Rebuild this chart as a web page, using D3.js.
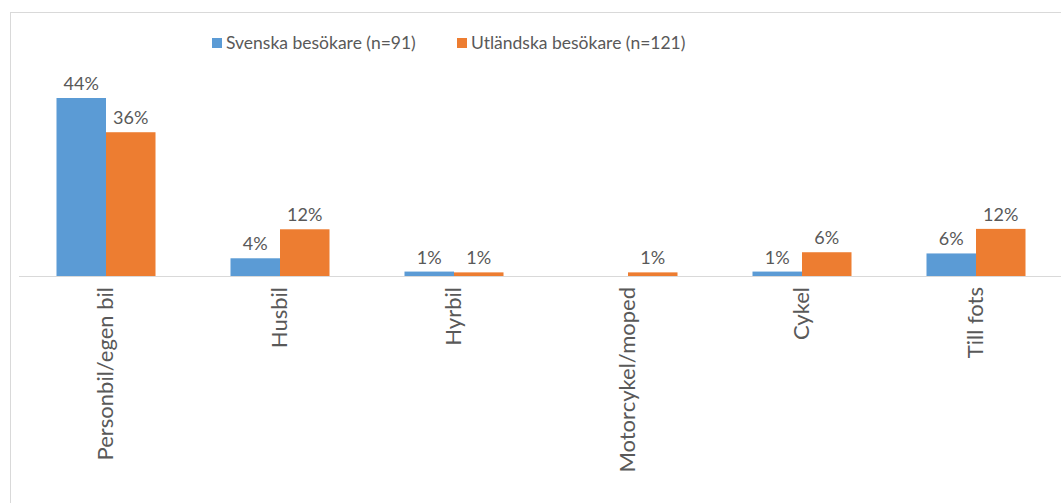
<!DOCTYPE html>
<html>
<head>
<meta charset="utf-8">
<script src="https://cdn.jsdelivr.net/npm/d3@7"></script>
<style>
    body { margin: 0; background: #fff; }
    text { font-family: Lato, "Open Sans", sans-serif; fill: #595959; }
</style>
</head>
<body>
<svg id="chart" width="1061" height="503"></svg>
<script>
// categories and series (percent)
const categories = ["Personbil/egen bil", "Husbil", "Hyrbil", "Motorcykel/moped", "Cykel", "Till fots"];
const seriesNames = ["Svenska besökare (n=91)", "Utländska besökare (n=121)"];
const svenska = [44.2, 4.4, 1.1, 0, 1.1, 5.6];
const utlandska = [35.7, 11.6, 0.9, 0.9, 5.9, 11.7];
const labelsSv = ["44%", "4%", "1%", "", "1%", "6%"];
const labelsUt = ["36%", "12%", "1%", "1%", "6%", "12%"];
const colors = ["#5b9bd5", "#ed7d31"];

const svg = d3.select("#chart");

// chart border
svg.append("rect")
    .attr("x", 10.5).attr("y", 12.5)
    .attr("width", 1070).attr("height", 510)
    .attr("fill", "none")
    .attr("stroke", "#d9d9d9");

const plot = {left: 19, right: 1063, baseline: 276};

const x0 = d3.scaleBand()
    .domain(categories)
    .range([plot.left, plot.right])
    .paddingInner(0.431)
    .paddingOuter(0.2155);

const x1 = d3.scaleBand()
    .domain([0, 1])
    .range([0, x0.bandwidth()]);

const y = d3.scaleLinear()
    .domain([0, 44.2])
    .range([plot.baseline, 98]);

const data = categories.map(function(c, i) {
    return {cat: c, vals: [svenska[i], utlandska[i]], labels: [labelsSv[i], labelsUt[i]]};
});

const groups = svg.selectAll(".group")
    .data(data)
    .enter().append("g")
    .attr("class", "group")
    .attr("transform", function(d) { return "translate(" + x0(d.cat) + ",0)"; });

groups.selectAll("rect")
    .data(function(d) { return d.vals.map(function(v, k) { return {v: v, k: k, label: d.labels[k]}; }); })
    .enter().append("rect")
    .attr("x", function(d) { return x1(d.k); })
    .attr("width", x1.bandwidth())
    .attr("y", function(d) { return y(d.v); })
    .attr("height", function(d) { return plot.baseline - y(d.v); })
    .attr("fill", function(d) { return colors[d.k]; });

groups.selectAll(".val")
    .data(function(d) { return d.vals.map(function(v, k) { return {v: v, k: k, label: d.labels[k]}; }); })
    .enter().append("text")
    .attr("class", "val")
    .attr("x", function(d) { return x1(d.k) + x1.bandwidth() / 2; })
    .attr("y", function(d) { return y(d.v) - 8; })
    .attr("text-anchor", "middle")
    .style("font-size", "18px")
    .text(function(d) { return d.label; });

// baseline
svg.append("line")
    .attr("x1", plot.left).attr("x2", plot.right)
    .attr("y1", plot.baseline + 0.5).attr("y2", plot.baseline + 0.5)
    .attr("stroke", "#d9d9d9");

// category labels, rotated
svg.selectAll(".cat")
    .data(categories)
    .enter().append("text")
    .attr("class", "cat")
    .attr("transform", function(d) {
        return "translate(" + (x0(d) + x0.bandwidth() / 2 + 7) + "," + (plot.baseline + 11) + ") rotate(-90)";
    })
    .attr("text-anchor", "end")
    .style("font-size", "22px")
    .text(function(d) { return d; });

// legend
const legendX = [212, 457];
const legend = svg.selectAll(".legend")
    .data(seriesNames)
    .enter().append("g")
    .attr("class", "legend")
    .attr("transform", function(d, i) { return "translate(" + legendX[i] + ",38)"; });

legend.append("rect")
    .attr("width", 10).attr("height", 10)
    .attr("fill", function(d, i) { return colors[i]; });

legend.append("text")
    .attr("x", 14).attr("y", 11)
    .style("font-size", "17.5px")
    .text(function(d) { return d; });
</script>
</body>
</html>
